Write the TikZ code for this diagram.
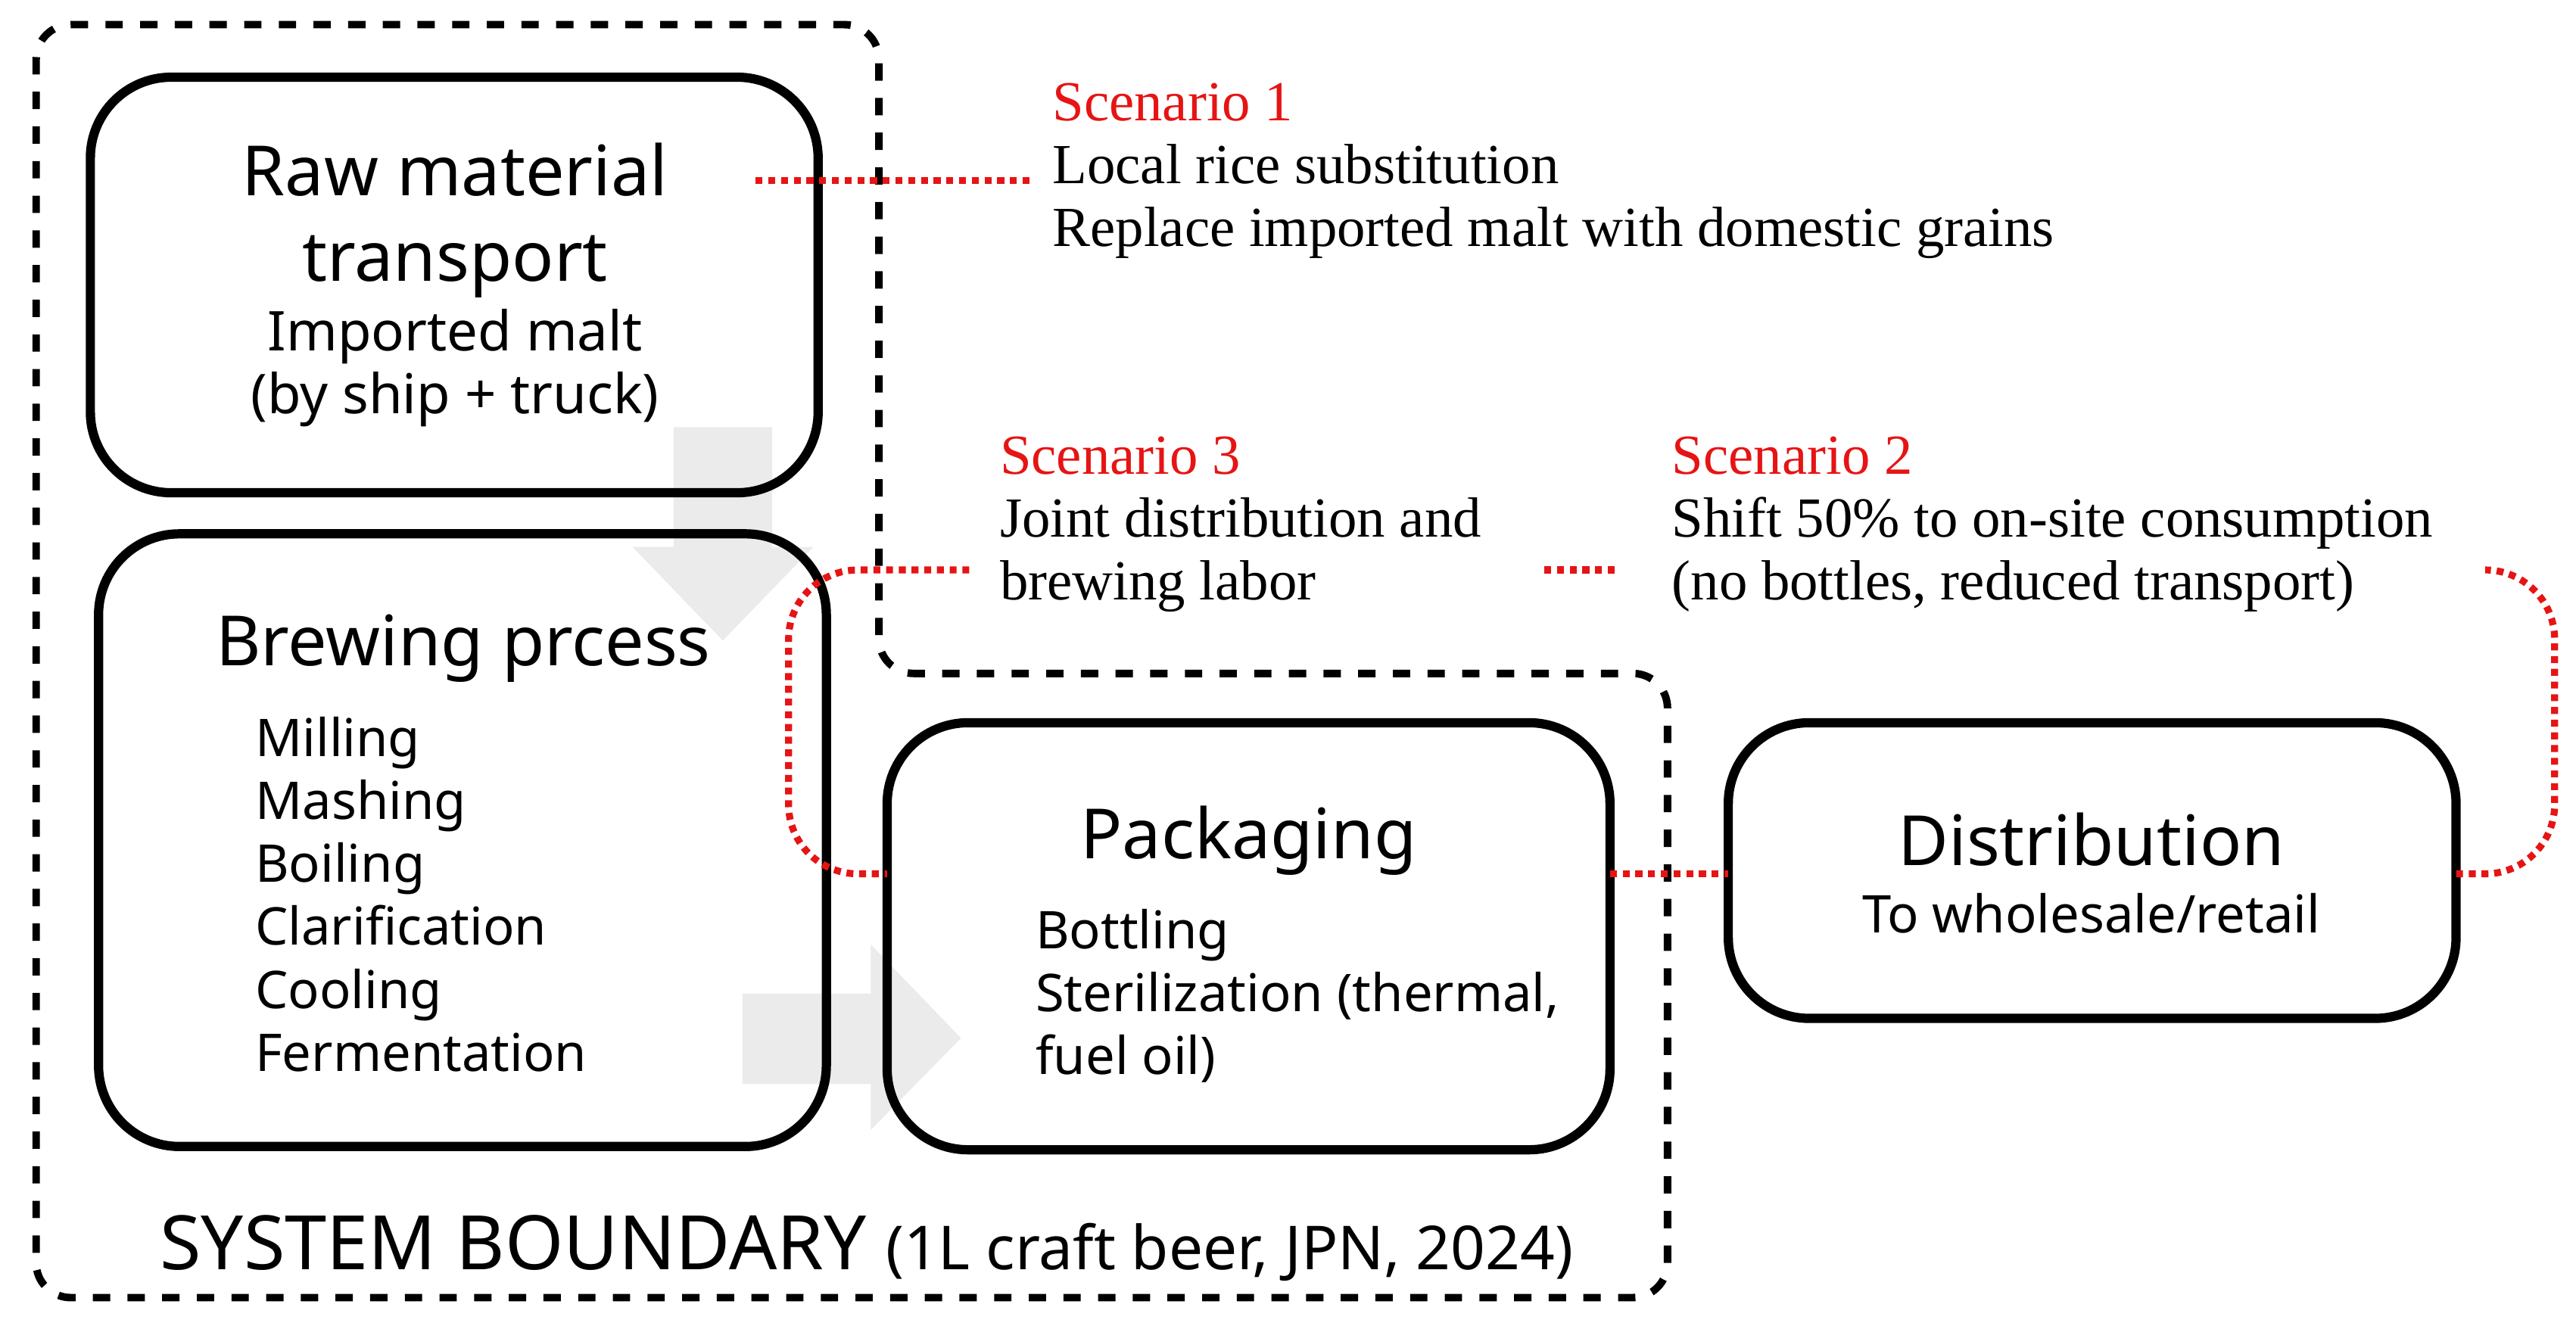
\documentclass[tikz,border=0pt]{standalone}
\usepackage{fontspec}
\setmainfont{Liberation Serif}
\setsansfont{Noto Sans}
\usetikzlibrary{positioning, calc}
\definecolor{scenred}{RGB}{230,20,20}
\definecolor{arrowgray}{RGB}{235,235,235}

\tikzset{
  stage/.style={draw, line width=1.6pt, rounded corners=14pt},
  title/.style={font=\sffamily\fontsize{12}{14.8}\selectfont, align=center},
  sub/.style={font=\sffamily\fontsize{9}{10.9}\selectfont, align=left, anchor=west},
  scen/.style={font=\fontsize{9.8}{10.9}\selectfont, align=left, anchor=north west, inner sep=0pt},
  link/.style={scenred, densely dotted, line width=1.2pt, rounded corners=12pt}
}

\begin{document}
\begin{tikzpicture}[x=0.01cm, y=-0.01cm]
\useasboundingbox (0,0) rectangle (1568,807);

% system boundary
\draw[dashed, line width=1.3pt, rounded corners=6pt]
  (22,15) -- (535,15) -- (535,410) -- (1015,410) -- (1015,790) -- (22,790) -- cycle;
\node[font=\sffamily\fontsize{13}{15}\selectfont, anchor=west] (sysb) at (85,760)
  {SYSTEM BOUNDARY {\fontsize{10.5}{13}\selectfont(1L craft beer, JPN, 2024)}};

% gray flow arrows
\fill[arrowgray] (410,260) -- (470,260) -- (470,333) -- (495,333) -- (440,390)
  -- (385,333) -- (410,333) -- cycle;
\fill[arrowgray] (452,605) -- (530,605) -- (530,575) -- (585,632) -- (530,688)
  -- (530,660) -- (452,660) -- cycle;

% stages
\draw[stage] (55,47) rectangle (498,300);
\draw[stage] (60,325) rectangle (503,698);
\draw[stage] (540,440) rectangle (980,700);
\draw[stage] (1052,440) rectangle (1495,620);

\node[title] (rawt) at (277,134) {Raw material\\transport};
\node[title, font=\sffamily\fontsize{9.5}{10.9}\selectfont] (rawd) at (277,224)
  {Imported malt\\(by ship + truck)};

\node[title] (brewt) at (282,395) {Brewing prcess};
\node[sub, anchor=north west] (brewd) at (143,424)
  {Milling\\Mashing\\Boiling\\Clarification\\Cooling\\Fermentation};

\node[title] (packt) at (760,512) {Packaging};
\node[sub, anchor=north west] (packd) at (618,541)
  {Bottling\\Sterilization (thermal,\\fuel oil)};

\node[title] (distt) at (1273,511) {Distribution};
\node[title, font=\sffamily\fontsize{9}{11}\selectfont] (distd) at (1273,556) {To wholesale/retail};

% scenarios
\node[scen] (sc1) at (640,50) {\textcolor{scenred}{Scenario 1}\\Local rice substitution\\Replace imported malt with domestic grains};
\node[scen] (sc3) at (608,265) {\textcolor{scenred}{Scenario 3}\\Joint distribution and\\brewing labor};
\node[scen] (sc2) at (1017,265) {\textcolor{scenred}{Scenario 2}\\Shift 50\% to on-site consumption\\(no bottles, reduced transport)};

% scenario links
\draw[link] (460,110) -- (628,110);
\draw[link] (590,347) -- (480,347) -- (480,532) -- (540,532);
\draw[link] (940,347) -- (985,347);
\draw[link] (980,532) -- (1052,532);
\draw[link] (1495,532) -- (1555,532) -- (1555,347) -- (1515,347);
\end{tikzpicture}
\end{document}
